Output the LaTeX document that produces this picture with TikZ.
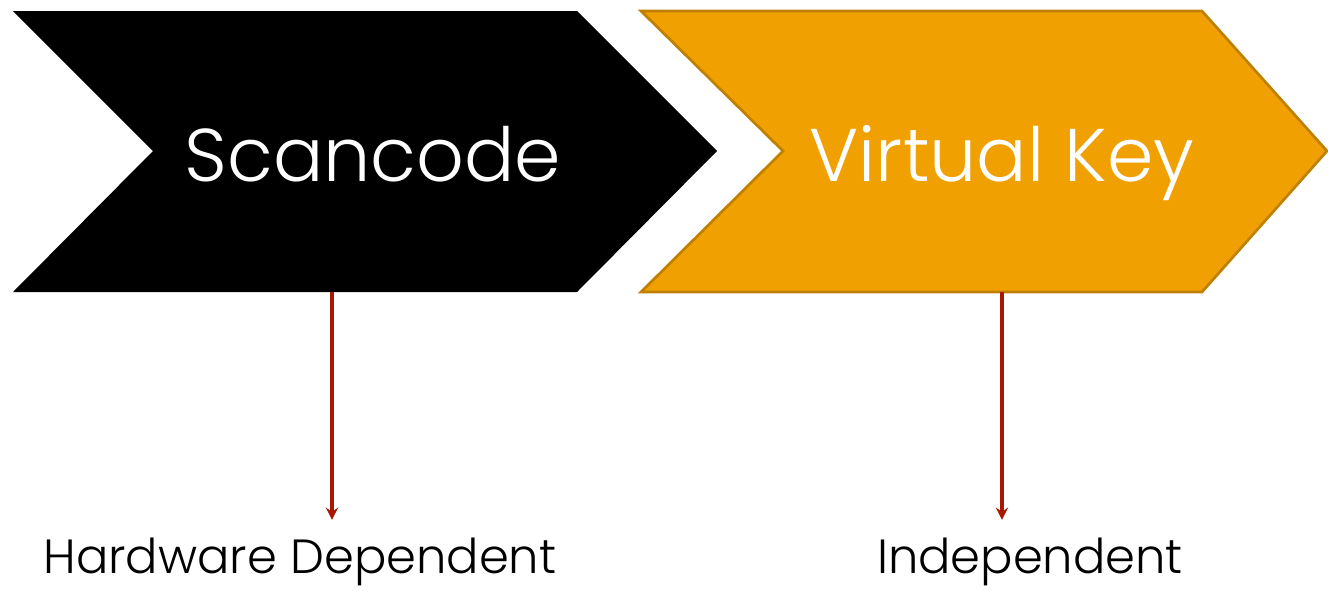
\documentclass[tikz,border=0pt]{standalone}
\usepackage{fontspec}
\setmainfont{Poppins}[UprightFont=* Light]
\usepackage{xcolor}
\definecolor{keyorange}{HTML}{F0A000}
\definecolor{keyborder}{HTML}{BF8000}
\definecolor{arrowred}{HTML}{A81800}
\tikzset{
  bigtext/.style={text=white,anchor=base,font=\fontsize{56}{64}\selectfont},
  smalltext/.style={text=black,anchor=base,inner sep=0pt,font=\fontsize{36}{44}\selectfont},
  downarrow/.style={-stealth,draw=arrowred,fill=arrowred,line width=3pt,shorten >=13pt}
}
\begin{document}
\begin{tikzpicture}[x=0.75pt,y=-0.75pt]
\useasboundingbox (0,0) rectangle (1328,590);
\fill [black] (13,11)--(577,11)--(717,151)--(577,292)--(13,292)--(153,151)--cycle;
\filldraw [fill=keyorange,draw=keyborder,line width=2pt] (641,11)--(1202,11)--(1327,151)--(1202,292)--(641,292)--(783,151)--cycle;
\node [bigtext] (scan) at (373,181) {Scancode};
\node [bigtext] (virt) at (1002,181) {Virtual Key};
\coordinate (scanbot) at (332,292);
\coordinate (virtbot) at (1002,292);
\node [smalltext] (hard) at (300,573) {Hardware Dependent};
\node [smalltext] (indep) at (1030,573) {Independent};
\draw [downarrow] (scanbot) -- (scanbot |- hard.north);
\draw [downarrow] (virtbot) -- (virtbot |- indep.north);
\end{tikzpicture}
\end{document}
